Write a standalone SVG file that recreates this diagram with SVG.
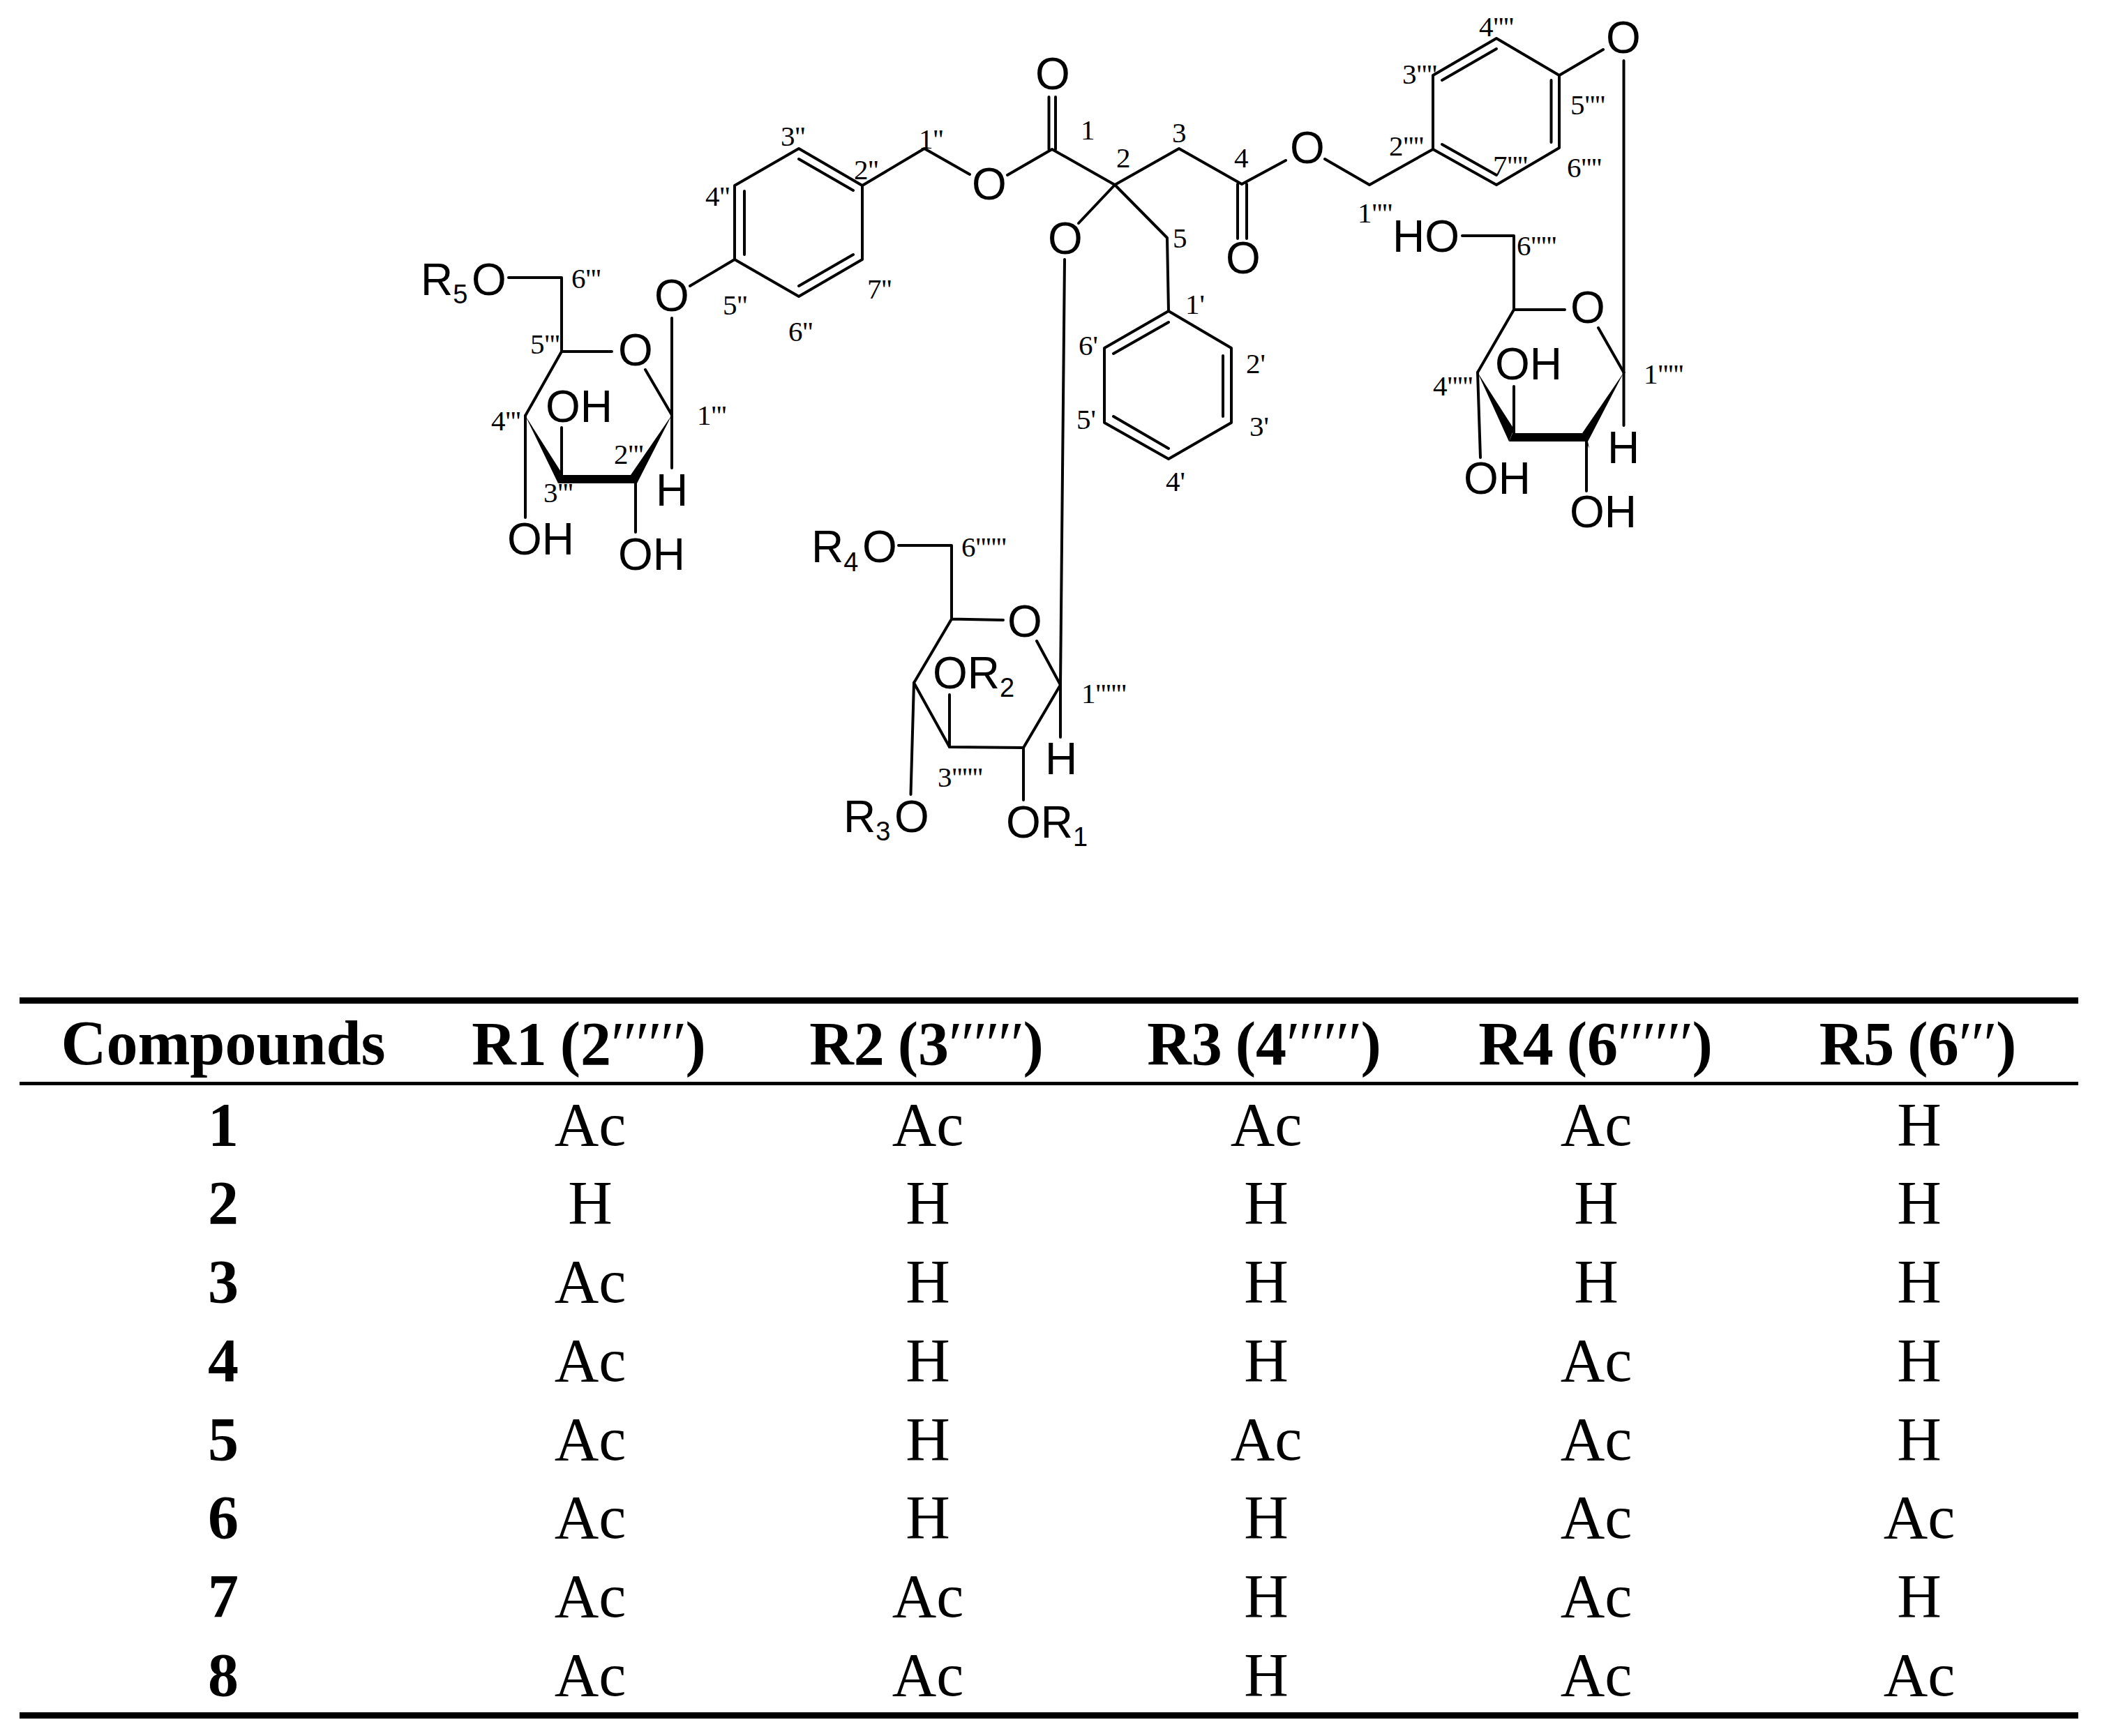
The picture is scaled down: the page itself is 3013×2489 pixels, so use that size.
<svg xmlns="http://www.w3.org/2000/svg" width="3013" height="2489" viewBox="0 0 3013 2489">
<style>
.b{fill:none;stroke:#000;stroke-width:4;stroke-linecap:round;stroke-linejoin:round}
.w{fill:#000;stroke:none}
.a{font-family:"Liberation Sans",Arial,sans-serif;font-size:64px;fill:#000}
.s{font-size:38px}
.l{font-family:"Liberation Serif","Times New Roman",serif;font-size:41px;fill:#000}
.t{font-family:"Liberation Serif","Times New Roman",serif;font-size:88px;fill:#000;text-anchor:middle}
.h{font-weight:bold;word-spacing:-3px}
.p{letter-spacing:-1.500px;font-weight:normal}
.r{fill:#000;stroke:none}
</style>
<rect width="3013" height="2489" fill="#fff"/>
<g id="connectors">
<g id="bonds-ring-a">
<path class="b" d="M1053 266L1145 213L1236 266V372L1145 425L1053 372Z"/>
<path class="b" d="M1145 228L1223 273M1067 274V365M1145 410L1223 365"/>
<path class="b" d="M1236 266L1325 213L1390 250M1053 372L989 410"/>
<path class="b" d="M1444 251L1508 214L1598 265M1503.500 139V214M1513 139V214"/>
</g>
<g id="bonds-centre">
<path class="b" d="M1598 265L1690 213L1780 264L1843 230M1774 264V342M1787 264V342"/>
<path class="b" d="M1899 228L1963 265L2054 214"/>
<path class="b" d="M1598 265L1546 320M1598 265L1673 341L1675 446"/>
<path class="b" d="M1675 446L1765 499V606L1675 658L1583 606V499Z"/>
<path class="b" d="M1596 507L1675 462M1753 510V597M1596 597L1675 643"/>
</g>
<g id="bonds-ring-b">
<path class="b" d="M2054 214V108L2145 55L2235 108V212L2145 265Z"/>
<path class="b" d="M2067 115L2145 70M2223.500 115V204M2067 207L2145 251"/>
<path class="b" d="M2235 108L2298 71M2327.500 87V610"/>
</g>
<g id="bonds-sugar-a">
<path class="b" d="M729 398H805V504H877M925 530L963 595M805 504L753 596"/>
<path class="b" d="M963 456V671M805 613V687M753 596V742M911 692V763"/>
<polygon class="w" points="753,596 800,693 807,681"/>
<polygon class="w" points="805,681 905,681 913,693 800,693"/>
<polygon class="w" points="963,595 904,681 913,704 913,693"/>
</g>
<g id="bonds-sugar-b">
<path class="b" d="M2096 338H2170V444H2243M2291 470L2327.500 534M2170 444L2118 534"/>
<path class="b" d="M2170 554V630M2118 534L2122 656M2274 630V704"/>
<polygon class="w" points="2118,534 2163,633 2170,615"/>
<polygon class="w" points="2168,621 2268,621 2276,633 2163,633"/>
<polygon class="w" points="2327.500,534 2268,621 2278,643 2276,633"/>
</g>
<g id="bonds-sugar-c">
<path class="b" d="M1526 372L1520 982V1057"/>
<path class="b" d="M1288 782H1364V887.500L1438 889M1486 919L1520 982L1467 1072L1361 1071L1310 979L1364 887.500"/>
<path class="b" d="M1361 996V1071M1310 979L1305.500 1139M1467 1072V1147"/>
</g>
</g>
<g id="atoms">
<text class="a" x="1484" y="128">O</text>
<text class="a" x="1393" y="286">O</text>
<text class="a" x="1502" y="364">O</text>
<text class="a" x="1757" y="392">O</text>
<text class="a" x="1849" y="234">O</text>
<text class="a" x="2302" y="76">O</text>
<text class="a" x="2251" y="463">O</text>
<text class="a" x="1996" y="361">HO</text>
<text class="a" x="2143" y="544">OH</text>
<text class="a" x="2098" y="708">OH</text>
<text class="a" x="2250" y="756">OH</text>
<text class="a" x="2304" y="664">H</text>
<text class="a" x="938" y="446">O</text>
<text class="a" x="886" y="524">O</text>
<text class="a" x="782" y="605">OH</text>
<text class="a" x="727" y="795">OH</text>
<text class="a" x="886" y="817">OH</text>
<text class="a" x="940" y="725">H</text>
<text class="a" x="603" y="423">R<tspan class="s" dy="12">5</tspan><tspan x="676" dy="-12">O</tspan></text>
<text class="a" x="1163" y="806">R<tspan class="s" dy="13">4</tspan><tspan x="1236" dy="-13">O</tspan></text>
<text class="a" x="1209" y="1193">R<tspan class="s" dy="12">3</tspan><tspan x="1282" dy="-12">O</tspan></text>
<text class="a" x="1442" y="1201">OR<tspan class="s" dy="12">1</tspan></text>
<text class="a" x="1337" y="987">OR<tspan class="s" dy="12">2</tspan></text>
<text class="a" x="1498" y="1110">H</text>
<text class="a" x="1444" y="913">O</text>
</g>
<g id="locants">
<text class="l" x="1549" y="200">1</text>
<text class="l" x="1600" y="240">2</text>
<text class="l" x="1680" y="204">3</text>
<text class="l" x="1769" y="240">4</text>
<text class="l" x="1681" y="355">5</text>
<text class="l" x="1699" y="450">1'</text>
<text class="l" x="1786" y="535">2'</text>
<text class="l" x="1791" y="625">3'</text>
<text class="l" x="1671" y="704">4'</text>
<text class="l" x="1543" y="615">5'</text>
<text class="l" x="1546" y="509">6'</text>
<text class="l" x="1317" y="213">1''</text>
<text class="l" x="1224" y="257">2''</text>
<text class="l" x="1119" y="209">3''</text>
<text class="l" x="1011" y="295">4''</text>
<text class="l" x="1036" y="451">5''</text>
<text class="l" x="1130" y="489">6''</text>
<text class="l" x="1243" y="428">7''</text>
<text class="l" x="999" y="609">1'''</text>
<text class="l" x="880" y="665">2'''</text>
<text class="l" x="779" y="720">3'''</text>
<text class="l" x="704" y="617">4'''</text>
<text class="l" x="760" y="507">5'''</text>
<text class="l" x="819" y="413">6'''</text>
<text class="l" x="1946" y="319">1''''</text>
<text class="l" x="1991" y="223">2''''</text>
<text class="l" x="2010" y="120">3''''</text>
<text class="l" x="2120" y="52">4''''</text>
<text class="l" x="2251" y="164">5''''</text>
<text class="l" x="2246" y="254">6''''</text>
<text class="l" x="2140" y="251">7''''</text>
<text class="l" x="2356" y="550">1'''''</text>
<text class="l" x="2054" y="567">4'''''</text>
<text class="l" x="2174" y="366">6'''''</text>
<text class="l" x="1550" y="1008">1''''''</text>
<text class="l" x="1344" y="1128">3''''''</text>
<text class="l" x="1378" y="798">6''''''</text>
</g>
<g id="table">
<rect class="r" x="28" y="1430" width="2951" height="9"/>
<rect class="r" x="28" y="1551" width="2951" height="5"/>
<rect class="r" x="28" y="2455" width="2951" height="9"/>
<g id="table-header">
<text class="t h" x="320" y="1526" style="font-size:90px">Compounds</text>
<text class="t h" x="844" y="1526">R1 (2<tspan class="p">′′′′′′</tspan>)</text>
<text class="t h" x="1328" y="1526">R2 (3<tspan class="p">′′′′′′</tspan>)</text>
<text class="t h" x="1812" y="1526">R3 (4<tspan class="p">′′′′′′</tspan>)</text>
<text class="t h" x="2287" y="1526">R4 (6<tspan class="p">′′′′′′</tspan>)</text>
<text class="t h" x="2749" y="1526">R5 (6<tspan class="p">′′′</tspan>)</text>
</g>
<g id="row-1"><text class="t h" x="320" y="1642">1</text><text class="t" x="846" y="1642">Ac</text><text class="t" x="1330" y="1642">Ac</text><text class="t" x="1815" y="1642">Ac</text><text class="t" x="2288" y="1642">Ac</text><text class="t" x="2751" y="1642">H</text></g>
<g id="row-2"><text class="t h" x="320" y="1754">2</text><text class="t" x="846" y="1754">H</text><text class="t" x="1330" y="1754">H</text><text class="t" x="1815" y="1754">H</text><text class="t" x="2288" y="1754">H</text><text class="t" x="2751" y="1754">H</text></g>
<g id="row-3"><text class="t h" x="320" y="1867">3</text><text class="t" x="846" y="1867">Ac</text><text class="t" x="1330" y="1867">H</text><text class="t" x="1815" y="1867">H</text><text class="t" x="2288" y="1867">H</text><text class="t" x="2751" y="1867">H</text></g>
<g id="row-4"><text class="t h" x="320" y="1980">4</text><text class="t" x="846" y="1980">Ac</text><text class="t" x="1330" y="1980">H</text><text class="t" x="1815" y="1980">H</text><text class="t" x="2288" y="1980">Ac</text><text class="t" x="2751" y="1980">H</text></g>
<g id="row-5"><text class="t h" x="320" y="2093">5</text><text class="t" x="846" y="2093">Ac</text><text class="t" x="1330" y="2093">H</text><text class="t" x="1815" y="2093">Ac</text><text class="t" x="2288" y="2093">Ac</text><text class="t" x="2751" y="2093">H</text></g>
<g id="row-6"><text class="t h" x="320" y="2205">6</text><text class="t" x="846" y="2205">Ac</text><text class="t" x="1330" y="2205">H</text><text class="t" x="1815" y="2205">H</text><text class="t" x="2288" y="2205">Ac</text><text class="t" x="2751" y="2205">Ac</text></g>
<g id="row-7"><text class="t h" x="320" y="2318">7</text><text class="t" x="846" y="2318">Ac</text><text class="t" x="1330" y="2318">Ac</text><text class="t" x="1815" y="2318">H</text><text class="t" x="2288" y="2318">Ac</text><text class="t" x="2751" y="2318">H</text></g>
<g id="row-8"><text class="t h" x="320" y="2431">8</text><text class="t" x="846" y="2431">Ac</text><text class="t" x="1330" y="2431">Ac</text><text class="t" x="1815" y="2431">H</text><text class="t" x="2288" y="2431">Ac</text><text class="t" x="2751" y="2431">Ac</text></g>
</g>
</svg>
